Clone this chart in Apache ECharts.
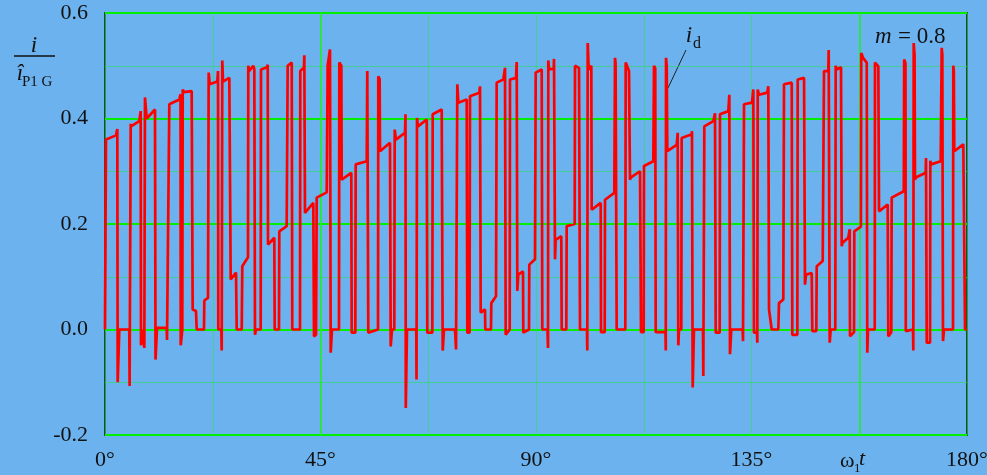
<!DOCTYPE html>
<html>
<head>
<meta charset="utf-8">
<script src="https://cdn.jsdelivr.net/npm/echarts@6/dist/echarts.min.js"></script>
<style>
  html, body { margin: 0; padding: 0; background: #6cb2ee; }
  #chart { width: 987px; height: 475px; }
</style>
</head>
<body>
<div id="chart"></div>
<script>
// DC-link current i_d / î_P1G over half a fundamental period (m = 0.8)
// Points are [ω1t in degrees, normalised current]

const id_0_30 = [
  [0,0],[0.21,0.36],[0.42,0.36],[2.30,0.368],[2.57,0.38],[2.65,-0.10],[2.82,-0.10],[2.99,0],
  [5.07,0],[5.14,-0.107],[5.32,-0.107],[5.37,0.39],[5.43,0.385],[7.16,0.395],[7.45,0.414],
  [7.52,-0.03],[7.73,-0.03],[7.87,0],[8.14,0],[8.21,-0.035],[8.31,-0.035],[8.35,0.44],[8.71,0.40],
  [10.44,0.417],[10.55,-0.057],[10.71,-0.057],[10.86,0.003],[12.88,0.003],[12.95,-0.02],[13.30,-0.02],
  [13.43,0.427],[15.52,0.436],[15.77,0.446],[15.81,-0.03],[16.02,-0.03],[16.14,0],[16.23,0.455],
  [16.50,0.45],[18.10,0.452],[18.31,0.038],[19.00,0.035],[19.15,0],[20.67,0],[20.74,0.055],
  [21.51,0.06],[21.65,0.487],[21.86,0.465],[23.45,0.47],[23.60,0.49],[23.66,0],[24.29,0],
  [24.37,-0.04],[24.49,0.51],[24.64,0.47],[25.96,0.477],[26.10,0.48],[26.25,0.095],[27.36,0.108],
  [27.50,0],[28.55,0],[28.67,0.12],[29.86,0.137],[29.92,0.50]
];

const id_30_60 = [
  [30.07,0.49],[30.97,0.50],[31.18,0.493],[31.32,-0.01],[31.53,0],[32.51,0],[32.58,0.493],
  [33.83,0.497],[33.98,0.502],[34.04,0.161],[34.14,0.164],[35.35,0.174],[35.44,0],[36.33,0],
  [36.40,0.186],[37.94,0.196],[38.15,0.50],[38.99,0.506],[39.11,0],[40.72,0],[40.78,0.49],
  [41.55,0.497],[41.62,0.52],[41.76,0.221],[43.50,0.24],[43.64,-0.013],[44.06,-0.01],[44.21,0.25],
  [46.30,0.26],[46.50,0.50],[46.98,0.531],[47.13,-0.044],[47.26,-0.044],[47.40,0],[48.86,0],
  [48.93,0.506],[49.35,0.50],[49.43,0.284],[51.43,0.297],[51.52,-0.006],[52.27,-0.006],[52.35,0.313],
  [54.65,0.319],[54.77,0.49],[54.98,-0.006],[57.01,0],[57.07,0.48],[57.35,0.475],[57.43,0.338],
  [59.51,0.354],[59.66,-0.032]
];

const id_60_90 = [
  [59.83,-0.032],[59.93,0],[60.41,0],[60.50,0.379],[60.76,0.36],[62.65,0.373],[62.75,0.408],
  [62.81,-0.149],[62.96,-0.149],[63.06,0],[65.00,0],[65.05,-0.095],[65.15,0.401],[65.36,0.385],
  [67.18,0.398],[67.30,-0.006],[68.35,-0.006],[68.43,0.408],[70.31,0.417],[70.52,-0.04],[70.64,-0.04],
  [70.79,0],[73.09,0],[73.30,-0.038],[73.57,0.465],[73.78,0.43],[75.53,0.436],[75.66,-0.006],
  [76.12,-0.006],[76.22,0.442],[78.16,0.449],[78.31,0.461],[78.45,0.032],[79.35,0.038],[79.41,0],
  [80.60,0],[80.67,0.05],[81.65,0.063],[81.79,0.468],[83.17,0.474],[83.53,0.496],[83.67,-0.01],
  [84.51,0],[84.57,0.474],[85.83,0.477],[85.97,0.507],[86.10,0.073],[86.30,0.104],[87.29,0.11],
  [87.35,-0.006],[88.54,0],[88.60,0.123],[89.79,0.133],[89.94,0.487]
];

const id_90_120 = [
  [90.10,0.487],[91.19,0.493],[91.32,0],[92.40,0],[92.51,-0.035],[92.57,0.51],[92.72,0.493],
  [93.70,0.495],[93.76,0.513],[93.97,0.133],[94.11,0.17],[95.28,0.177],[95.37,0],[96.33,0],
  [96.41,0.196],[98.08,0.20],[98.15,0.50],[98.98,0.496],[99.19,0],[100.65,0],[100.71,-0.04],
  [100.80,0.543],[101.01,0.493],[101.55,0.50],[101.63,0.227],[103.51,0.24],[103.58,-0.005],
  [104.35,-0.005],[104.41,0.246],[106.35,0.259],[106.50,0.515],[106.62,0.505],[106.85,0],
  [108.65,0],[108.73,0.506],[109.42,0.49],[109.63,0.284],[109.78,0.288],[111.72,0.30],
  [111.93,-0.005],[112.49,-0.005],[112.55,0.31],[114.50,0.319],[114.64,0.50],[114.90,0.495],
  [115.00,-0.005],[117.04,-0.005],[117.10,-0.04],[117.15,0.515],[117.30,0.50],[117.42,0.338],
  [119.38,0.35],[119.59,0.373],[119.72,-0.03],[119.86,0],[120.34,0],[120.42,0.363]
];

const id_120_150 = [
  [120.63,0.36],[122.51,0.37],[122.57,0.376],[122.72,-0.11],[122.89,-0.11],[122.99,0],[124.87,0],
  [124.94,-0.088],[125.08,-0.088],[125.15,0.385],[127.03,0.395],[127.38,0.41],[127.53,-0.006],
  [128.36,-0.006],[128.42,0.408],[130.16,0.414],[130.37,0.445],[130.51,-0.047],[130.66,-0.047],
  [130.78,0],[133.16,0],[133.23,-0.022],[133.44,0.427],[135.11,0.43],[135.38,0.455],[135.52,-0.006],
  [136.15,-0.006],[136.21,-0.025],[136.30,0.455],[136.57,0.445],[138.30,0.449],[138.51,0.461],
  [138.66,0.038],[139.07,0.04],[139.22,0],[140.60,0],[140.74,0.05],[141.64,0.057],[141.79,0.465],
  [143.40,0.468],[143.52,-0.01],[144.57,-0.01],[144.65,0.474],[145.97,0.477],[146.17,0.085],
  [146.38,0.104],[147.57,0.107],[147.70,-0.003],[148.53,-0.003],[148.62,0.12],[149.87,0.13],
  [150.14,0.49],[151.04,0.49],[151.12,0.53],[151.33,-0.025]
];

const id_150_180 = [
  [151.54,0],[152.50,0],[152.58,0.50],[152.79,0.493],[153.69,0.497],[153.84,0.158],[153.96,0.164],
  [155.21,0.174],[155.51,0.19],[155.57,-0.013],[156.41,-0.005],[156.47,0.186],[157.85,0.195],
  [157.92,0.524],[158.29,0.515],[159.06,0.506],[159.18,-0.044],[159.33,0],[160.73,0],[160.79,0.506],
  [161.48,0.499],[161.63,0.224],[161.84,0.227],[163.44,0.237],[163.57,-0.013],[164.19,-0.005],
  [164.28,0.25],[166.80,0.262],[166.88,0.512],[167.15,0.505],[167.22,-0.003],[168.73,0],
  [168.79,-0.04],[168.87,0.543],[169.05,0.52],[169.14,0.284],[169.29,0.288],[171.38,0.297],
  [171.44,0.325],[171.59,-0.025],[172.28,-0.025],[172.34,0.32],[172.49,0.313],[174.51,0.319],
  [174.72,0.534],[174.85,0.52],[174.99,-0.022],[175.20,0],[177.08,0],[177.14,0.50],[177.25,0.49],
  [177.35,0.338],[177.50,0.341],[179.23,0.351],[179.59,0],[180,0]
];

// Axis ticks
const xLabelSteps = [0, 45, 90, 135, 180];   // labelled angles (°)
const xGridStep = 22.5;                       // vertical grid spacing (°)
const yTickStep = 0.2;
const yRange = [-0.2, 0.6];
const brightVerticals = [45, 157.5];

const idData = [].concat(id_0_30, id_30_60, id_60_90, id_90_120, id_120_150, id_150_180);

const SERIF = '"Liberation Serif", "Times New Roman", serif';
const INK = '#111';

const chart = echarts.init(document.getElementById('chart'), null, { renderer: 'canvas' });

chart.setOption({
  animation: false,
  backgroundColor: '#6cb2ee',
  grid: {
    left: 105, right: 20, top: 13, bottom: 40,
    outerBoundsMode: 'none',
    containLabel: false,
    show: true,
    borderColor: '#1d4a34',
    borderWidth: 2,
    backgroundColor: 'transparent'
  },
  xAxis: {
    type: 'value',
    min: 0, max: 180,
    interval: xGridStep,
    axisLine: { show: false },
    axisTick: { show: false },
    axisLabel: {
      margin: 14,
      color: INK,
      fontFamily: SERIF,
      fontSize: 22,
      showMinLabel: true,
      showMaxLabel: true,
      formatter: v => xLabelSteps.indexOf(Math.round(v * 10) / 10) >= 0 ? v + '°' : ''
    },
    splitLine: { show: true, lineStyle: { color: 'rgba(40,225,80,0.55)', width: 1 } }
  },
  yAxis: {
    type: 'value',
    min: yRange[0], max: yRange[1],
    interval: yTickStep,
    axisLine: { show: false },
    axisTick: { show: false },
    minorTick: { show: false, splitNumber: 2 },
    minorSplitLine: { show: true, lineStyle: { color: 'rgba(50,215,110,0.7)', width: 1 } },
    splitLine: { show: true, lineStyle: { color: '#00ee00', width: 2 } },
    axisLabel: {
      margin: 17,
      color: INK,
      fontFamily: SERIF,
      fontSize: 22,
      formatter: v => v.toFixed(1)
    }
  },
  series: [{
    type: 'line',
    data: idData,
    showSymbol: false,
    symbol: 'none',
    clip: true,
    lineStyle: { color: '#ff0000', width: 2.7, join: 'bevel' },
    z: 5,
    markLine: {
      silent: true,
      symbol: 'none',
      label: { show: false },
      lineStyle: { color: '#22ee22', width: 1.5, type: 'solid' },
      data: brightVerticals.map(v => ({ xAxis: v })),
      z: 1
    }
  }],
  graphic: [
    // y-axis quantity: i / î_P1 G
    { type: 'text', x: 34, y: 46, style: { text: 'i', font: 'italic 23px ' + SERIF, fill: INK, align: 'center', verticalAlign: 'middle' } },
    { type: 'line', shape: { x1: 14, y1: 56, x2: 55, y2: 56 }, style: { stroke: INK, lineWidth: 1.5 } },
    { type: 'text', x: 20, y: 74, style: { text: 'î', font: 'italic 23px ' + SERIF, fill: INK, align: 'center', verticalAlign: 'middle' } },
    { type: 'text', x: 22, y: 82, style: { text: 'P1 G', font: '15px ' + SERIF, fill: INK, align: 'left', verticalAlign: 'middle' } },
    // x-axis quantity: ω1 t
    { type: 'text', x: 840, y: 461, style: { text: 'ω', font: '22px ' + SERIF, fill: INK, align: 'left', verticalAlign: 'middle' } },
    { type: 'text', x: 854, y: 469, style: { text: '1', font: '13px ' + SERIF, fill: INK, align: 'left', verticalAlign: 'middle' } },
    { type: 'text', x: 859, y: 459, style: { text: 't', font: 'italic 22px ' + SERIF, fill: INK, align: 'left', verticalAlign: 'middle' } },
    // curve label i_d with leader
    { type: 'text', x: 689, y: 36, style: { text: 'i', font: 'italic 23px ' + SERIF, fill: INK, align: 'center', verticalAlign: 'middle' } },
    { type: 'text', x: 693, y: 44, style: { text: 'd', font: '16px ' + SERIF, fill: INK, align: 'left', verticalAlign: 'middle' } },
    { type: 'line', shape: { x1: 686, y1: 50, x2: 668, y2: 88 }, style: { stroke: '#222', lineWidth: 1 } },
    // modulation index
    { type: 'text', x: 875, y: 37, style: { text: 'm', font: 'italic 23px ' + SERIF, fill: INK, align: 'left', verticalAlign: 'middle' } },
    { type: 'text', x: 898, y: 37, style: { text: '= 0.8', font: '23px ' + SERIF, fill: INK, align: 'left', verticalAlign: 'middle' } }
  ]
});
</script>
</body>
</html>
